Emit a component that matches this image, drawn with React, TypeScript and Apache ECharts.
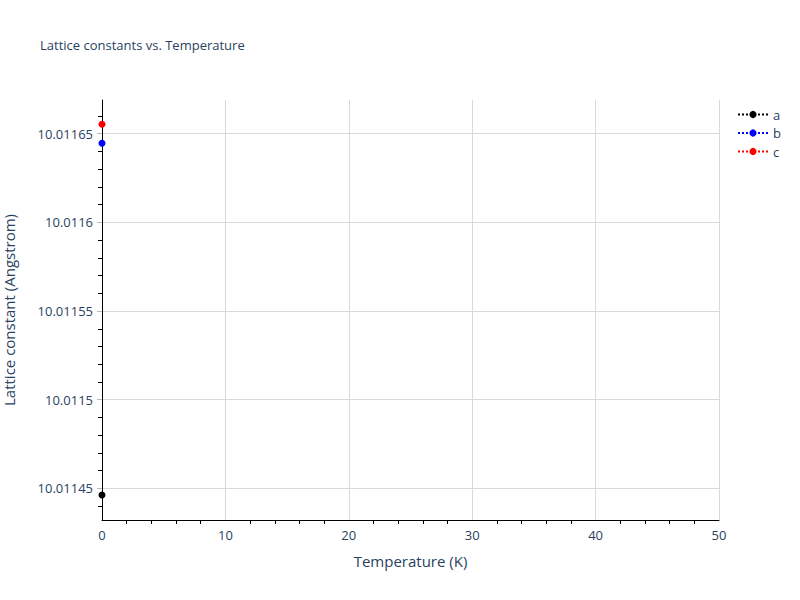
import * as echarts from 'echarts'
import { useEffect, useRef } from 'react'

const FONT = '"Open Sans", "DejaVu Sans", sans-serif'
const TEXT = '#2a3f5f'

// 单点数据：T = 0 K 时的晶格常数
const temperatures = [0]
const latticeA = [10.0114463]
const latticeB = [10.0116446]
const latticeC = [10.0116553]

const seriesNames = ['a', 'b', 'c']
const seriesColors = ['#000000', '#0000ff', '#ff0000']

const yMajorTicks = [10.01145, 10.0115, 10.01155, 10.0116, 10.01165]
const yMinorTicks = [
  10.01144, 10.01146, 10.01147, 10.01148, 10.01149, 10.01151, 10.01152, 10.01153, 10.01154,
  10.01156, 10.01157, 10.01158, 10.01159, 10.01161, 10.01162, 10.01163, 10.01164, 10.01166,
]
const yRange = [10.0114322, 10.011669]
const xRange = [0, 50]

export default function App() {
  const ref = useRef<HTMLDivElement>(null)

  useEffect(() => {
    if (!ref.current) return
    const chart = echarts.init(ref.current, undefined, { renderer: 'svg' })
    const values = [latticeA, latticeB, latticeC]

    chart.setOption({
      animation: false,
      backgroundColor: '#ffffff',
      textStyle: { fontFamily: FONT, color: TEXT },
      title: {
        text: 'Lattice constants vs. Temperature',
        left: 35,
        top: 33,
        textStyle: { fontFamily: FONT, fontSize: 13, fontWeight: 'normal', color: TEXT },
      },
      legend: {
        orient: 'vertical',
        left: 732,
        top: 103,
        itemWidth: 30,
        itemHeight: 9,
        itemGap: 5.5,
        textStyle: { fontFamily: FONT, fontSize: 13, color: TEXT },
        data: seriesNames,
      },
      grid: { left: 102, right: 81, top: 100, bottom: 80, containLabel: false, outerBoundsMode: 'none' },
      xAxis: {
        type: 'value',
        min: xRange[0],
        max: xRange[1],
        interval: 10,
        name: 'Temperature (K)',
        nameLocation: 'middle',
        nameGap: 33,
        nameTextStyle: { fontFamily: FONT, fontSize: 15, color: TEXT },
        axisLine: { show: true, onZero: false, lineStyle: { color: '#000000', width: 1 } },
        axisTick: { show: false },
        minorTick: { show: true, splitNumber: 5, length: 4, lineStyle: { color: '#000000', width: 1 } },
        axisLabel: { fontFamily: FONT, fontSize: 13, color: TEXT, margin: 8 },
        splitLine: { show: true, lineStyle: { color: '#d9d9d9', width: 1 } },
      },
      yAxis: [
        {
          type: 'value',
          min: yRange[0],
          max: yRange[1],
          position: 'left',
          name: 'Lattice constant (Angstrom)',
          nameLocation: 'middle',
          nameGap: 86,
          nameTextStyle: { fontFamily: FONT, fontSize: 15, color: TEXT },
          axisLine: { show: true, onZero: false, lineStyle: { color: '#000000', width: 1 } },
          axisTick: {
            show: true,
            length: 5,
            customValues: yMajorTicks,
            lineStyle: { color: '#bbbbbb', width: 1 },
          },
          axisLabel: {
            fontFamily: FONT,
            fontSize: 13,
            color: TEXT,
            margin: 9,
            customValues: yMajorTicks,
            formatter: (v: number) => String(parseFloat(v.toFixed(6))),
          },
          splitLine: { show: true, lineStyle: { color: '#d9d9d9', width: 1 } },
        },
        {
          type: 'value',
          min: yRange[0],
          max: yRange[1],
          position: 'left',
          offset: 0,
          axisLine: { show: false },
          axisTick: {
            show: true,
            length: 4,
            customValues: yMinorTicks,
            lineStyle: { color: '#000000', width: 1 },
          },
          axisLabel: { show: false },
          splitLine: { show: false },
        },
      ],
      series: seriesNames.map((name, i) => ({
        name,
        type: 'line',
        yAxisIndex: 0,
        data: temperatures.map((t, j) => [t, values[i][j]]),
        symbol: 'circle',
        symbolSize: 7,
        showSymbol: true,
        clip: false,
        itemStyle: { color: seriesColors[i] },
        lineStyle: { color: seriesColors[i], width: 2, type: 'dotted' },
      })),
    })

    return () => chart.dispose()
  }, [])

  return <div ref={ref} style={{ position: 'absolute', left: 0, top: 0, width: 800, height: 600 }} />
}
